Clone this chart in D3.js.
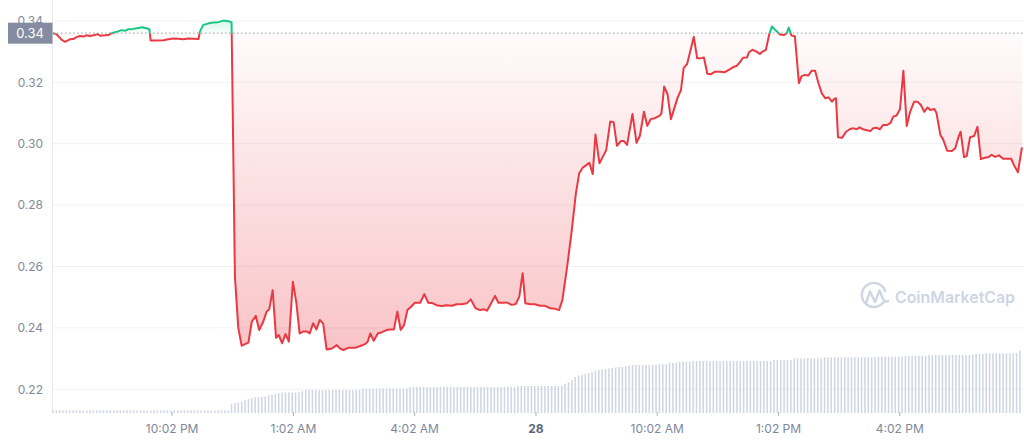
<!DOCTYPE html>
<html>
<head>
<meta charset="utf-8">
<script src="https://cdn.jsdelivr.net/npm/d3@7"></script>
<style>
  html, body { margin: 0; padding: 0; background: #fff; }
  svg { display: block; font-family: Inter, "Noto Sans", sans-serif; }
</style>
</head>
<body>
<svg id="chart" width="1024" height="441"></svg>
<script>
// ---------- DATA ----------
// [minutes after 19:06 on the 27th, price USD]
const pricePoints = [
[0,0.3360],[5,0.3357],[13,0.3338],[18,0.3332],[25,0.3340],[30,0.3341],[35,0.3347],[40,0.3351],[45,0.3349],[50,0.3353],
[55,0.3351],[62,0.3354],[66,0.3357],[70,0.3352],[77,0.3353],[82,0.3354],[87,0.3360],[95,0.3365],[102,0.3370],[107,0.3368],
[112,0.3373],[119,0.3374],[127,0.3377],[132,0.3379],[139,0.3376],[143,0.3373],[145,0.3336],[154,0.3336],[164,0.3337],[171,0.3340],
[179,0.3343],[186,0.3342],[193,0.3340],[201,0.3343],[208,0.3342],[216,0.3341],[218,0.3365],[223,0.3387],[231,0.3392],[238,0.3395],
[245,0.3396],[253,0.3401],[260,0.3399],[265,0.3396],[270,0.2566],[275,0.2400],[280,0.2342],[290,0.2352],[295,0.2420],[301,0.2439],
[306,0.2393],[312,0.2420],[317,0.2453],[321,0.2461],[326,0.2523],[331,0.2368],[335,0.2377],[340,0.2350],[345,0.2380],[350,0.2355],
[356,0.2550],[361,0.2485],[366,0.2382],[371,0.2388],[377,0.2388],[381,0.2382],[386,0.2415],[391,0.2395],[396,0.2426],[401,0.2413],
[406,0.2330],[414,0.2333],[421,0.2344],[426,0.2333],[431,0.2328],[438,0.2335],[448,0.2335],[456,0.2341],[463,0.2347],[467,0.2355],
[471,0.2382],[476,0.2358],[482,0.2382],[488,0.2386],[495,0.2393],[500,0.2395],[506,0.2395],[511,0.2453],[516,0.2393],[521,0.2409],
[526,0.2458],[531,0.2468],[537,0.2482],[545,0.2482],[551,0.2510],[557,0.2482],[564,0.2480],[569,0.2474],[577,0.2471],[584,0.2474],
[592,0.2472],[599,0.2477],[607,0.2477],[614,0.2480],[620,0.2493],[627,0.2464],[634,0.2458],[639,0.2461],[644,0.2456],[649,0.2475],
[656,0.2504],[661,0.2482],[668,0.2482],[673,0.2483],[681,0.2475],[687,0.2478],[692,0.2502],[697,0.2578],[701,0.2480],[708,0.2477],
[715,0.2477],[723,0.2472],[730,0.2472],[738,0.2464],[745,0.2462],[751,0.2458],[756,0.2491],[763,0.2599],[770,0.2719],[776,0.2838],
[781,0.2904],[786,0.2922],[792,0.2931],[796,0.2938],[801,0.2901],[805,0.3030],[811,0.2936],[821,0.2979],[827,0.3072],[832,0.3070],
[837,0.2993],[843,0.3009],[847,0.3009],[852,0.2996],[860,0.3097],[866,0.3003],[871,0.3026],[877,0.3104],[882,0.3058],[887,0.3080],
[893,0.3083],[900,0.3091],[903,0.3099],[907,0.3186],[912,0.3161],[917,0.3080],[922,0.3115],[927,0.3150],[932,0.3175],[936,0.3247],
[941,0.3259],[951,0.3348],[956,0.3278],[961,0.3278],[966,0.3281],[971,0.3228],[976,0.3226],[982,0.3234],[990,0.3234],[997,0.3233],
[1005,0.3243],[1010,0.3250],[1015,0.3254],[1020,0.3267],[1024,0.3280],[1030,0.3281],[1033,0.3298],[1038,0.3306],[1044,0.3300],[1049,0.3292],
[1053,0.3300],[1058,0.3306],[1063,0.3357],[1067,0.3382],[1072,0.3370],[1079,0.3356],[1085,0.3354],[1089,0.3360],[1092,0.3378],[1096,0.3352],
[1101,0.3350],[1107,0.3197],[1111,0.3220],[1116,0.3224],[1121,0.3222],[1126,0.3238],[1131,0.3238],[1136,0.3197],[1141,0.3164],[1146,0.3148],
[1151,0.3151],[1156,0.3137],[1159,0.3145],[1162,0.3148],[1165,0.3021],[1171,0.3019],[1177,0.3039],[1183,0.3048],[1188,0.3050],[1193,0.3047],
[1197,0.3053],[1202,0.3047],[1208,0.3044],[1213,0.3041],[1217,0.3050],[1222,0.3052],[1227,0.3047],[1232,0.3061],[1238,0.3061],[1243,0.3068],
[1247,0.3088],[1252,0.3092],[1257,0.3112],[1262,0.3238],[1267,0.3058],[1272,0.3104],[1278,0.3137],[1283,0.3137],[1288,0.3126],[1293,0.3104],
[1298,0.3118],[1302,0.3110],[1308,0.3113],[1311,0.3101],[1317,0.3028],[1321,0.3014],[1327,0.2977],[1334,0.2976],[1339,0.2985],[1344,0.3023],
[1347,0.3039],[1352,0.2956],[1356,0.2960],[1361,0.3021],[1367,0.3025],[1372,0.3055],[1377,0.2950],[1383,0.2954],[1389,0.2957],[1393,0.2964],
[1398,0.2957],[1404,0.2962],[1410,0.2951],[1416,0.2951],[1422,0.2951],[1426,0.2931],[1432,0.2907],[1438,0.2988]
];

// volume bars, one every 5 minutes (arbitrary units)
const volumes = [
0.27,0.27,0.27,0.27,0.27,0.27,0.27,0.27,0.27,0.27,
0.27,0.27,0.27,0.27,0.27,0.27,0.27,0.27,0.27,0.27,
0.27,0.27,0.27,0.27,0.27,0.27,0.27,0.27,0.27,0.27,
0.27,0.27,0.27,0.27,0.27,0.27,0.27,0.27,0.27,0.27,
0.27,0.27,0.27,0.27,0.27,0.27,0.27,0.27,0.27,0.27,
0.27,0.27,0.27,0.9,1.0,1.05,1.15,1.3,1.4,1.5,
1.55,1.6,1.6,1.65,1.75,1.85,1.95,2.0,2.05,2.05,
2.05,2.05,2.05,2.05,2.2,2.3,2.3,2.3,2.3,2.3,
2.3,2.3,2.3,2.3,2.3,2.3,2.3,2.3,2.3,2.3,
2.3,2.3,2.45,2.45,2.45,2.45,2.45,2.45,2.45,2.45,
2.45,2.45,2.45,2.45,2.45,2.45,2.6,2.6,2.6,2.6,
2.6,2.6,2.6,2.6,2.6,2.6,2.6,2.6,2.6,2.6,
2.6,2.6,2.6,2.6,2.6,2.6,2.6,2.6,2.6,2.6,
2.6,2.6,2.6,2.6,2.6,2.6,2.6,2.6,2.7,2.7,
2.7,2.7,2.7,2.7,2.7,2.7,2.7,2.7,2.7,2.7,
2.7,2.7,2.9,3.1,3.3,3.6,3.75,3.8,3.9,4.0,
4.1,4.2,4.3,4.35,4.4,4.45,4.5,4.55,4.6,4.6,
4.7,4.75,4.8,4.8,4.8,4.8,4.8,4.8,4.8,4.8,
4.87,4.87,4.87,5.03,5.03,5.03,5.13,5.13,5.13,5.13,
5.2,5.2,5.2,5.2,5.2,5.2,5.2,5.2,5.2,5.2,
5.2,5.2,5.2,5.2,5.2,5.2,5.2,5.2,5.2,5.2,
5.2,5.2,5.2,5.2,5.3,5.3,5.3,5.3,5.3,5.3,
5.47,5.47,5.47,5.47,5.47,5.47,5.47,5.47,5.47,5.57,
5.57,5.57,5.57,5.57,5.57,5.57,5.57,5.57,5.57,5.57,
5.57,5.57,5.57,5.57,5.57,5.63,5.63,5.63,5.63,5.63,
5.63,5.63,5.63,5.73,5.73,5.73,5.73,5.73,5.73,5.73,
5.8,5.8,5.8,5.8,5.8,5.8,5.8,5.8,5.8,5.8,
5.8,5.8,5.8,5.8,5.9,5.9,5.9,5.97,5.97,5.97,
5.97,5.97,5.97,5.97,5.97,5.97,5.97,6.23
];

const yTicks = [0.22, 0.24, 0.26, 0.28, 0.30, 0.32, 0.34];
const xTickMinutes = [176, 356, 536, 716, 896, 1076, 1256];
const xTickLabels = ["10:02 PM", "1:02 AM", "4:02 AM", "28", "10:02 AM", "1:02 PM", "4:02 PM"];
const openLabel = "0.34";

// ---------- CHART ----------
const svg = d3.select("#chart");
const start = new Date(2022, 4, 27, 19, 6);
const tAt = m => d3.timeMinute.offset(start, m);

const x = d3.scaleTime().domain([start, tAt(1440)]).range([53, 1023.3]);
const y = d3.scaleLinear().domain([0.22, 0.34]).range([389.3, 20.9]);
const yVol = d3.scaleLinear().domain([0, 6.23]).range([413, 350.7]);

const data = pricePoints.map(d => ({ t: tAt(d[0]), v: d[1] }));
const openPrice = data[0].v;
const yb = y(openPrice);

const RED = "#ea3943", GREEN = "#16c784";

const defs = svg.append("defs");
const gRed = defs.append("linearGradient").attr("id", "gradRed")
  .attr("gradientUnits", "userSpaceOnUse").attr("x1", 0).attr("x2", 0)
  .attr("y1", yb).attr("y2", y(0.233));
gRed.append("stop").attr("offset", 0).attr("stop-color", RED).attr("stop-opacity", 0.02);
gRed.append("stop").attr("offset", 1).attr("stop-color", RED).attr("stop-opacity", 0.3);
const gGreen = defs.append("linearGradient").attr("id", "gradGreen")
  .attr("gradientUnits", "userSpaceOnUse").attr("x1", 0).attr("x2", 0)
  .attr("y1", y(0.3405)).attr("y2", yb);
gGreen.append("stop").attr("offset", 0).attr("stop-color", GREEN).attr("stop-opacity", 0.18);
gGreen.append("stop").attr("offset", 1).attr("stop-color", GREEN).attr("stop-opacity", 0.03);

defs.append("clipPath").attr("id", "clipAbove").append("rect")
  .attr("x", 0).attr("y", 0).attr("width", 1024).attr("height", yb);
defs.append("clipPath").attr("id", "clipBelow").append("rect")
  .attr("x", 0).attr("y", yb).attr("width", 1024).attr("height", 441 - yb);

// gridlines
svg.append("g").selectAll("line").data(yTicks).join("line")
  .attr("x1", 53).attr("x2", 1024)
  .attr("y1", d => y(d)).attr("y2", d => y(d))
  .attr("stroke", "#eff2f5").attr("stroke-width", 1);

// y axis line
svg.append("line").attr("x1", 52.5).attr("x2", 52.5).attr("y1", 0).attr("y2", 413)
  .attr("stroke", "#e6e9ee").attr("stroke-width", 1);

// y axis labels
const yAxis = svg.append("g").attr("transform", "translate(53,0)")
  .call(d3.axisLeft(y).tickValues(yTicks).tickFormat(d3.format(".2f")).tickSize(0).tickPadding(10));
yAxis.select(".domain").remove();
yAxis.selectAll("text").attr("fill", "#808a9d").style("font-size", "12px").style("font-family", "Inter");

// volume bars
svg.append("g").selectAll("rect").data(volumes).join("rect")
  .attr("x", (d, i) => x(tAt(i * 5)) - 0.75)
  .attr("width", 1.5)
  .attr("y", d => yVol(d))
  .attr("height", d => yVol(0) - yVol(d))
  .attr("fill", "#cfd5e3");

// watermark
const wm = svg.append("g").attr("fill", "none").attr("stroke", "#cfd5e3");
wm.append("path")
  .attr("d", "M884.5,300.5 A12,12 0 1 1 885.2,291")
  .attr("stroke-width", 2.4).attr("stroke-linecap", "round");
wm.append("path")
  .attr("d", "M866,303 L870,291.5 L875,302 L879.5,290.5 L883,299 Q885,303 888,301")
  .attr("stroke-width", 2.4).attr("stroke-linecap", "round").attr("stroke-linejoin", "round");
svg.append("text").attr("x", 895).attr("y", 302.5)
  .attr("fill", "#cfd5e3").style("font-size", "16.5px").style("font-weight", 600)
  .attr("textLength", 120).attr("lengthAdjust", "spacingAndGlyphs")
  .style("font-family", "Inter").text("CoinMarketCap");

// areas
const area = d3.area().x(d => x(d.t)).y0(yb).y1(d => y(d.v));
svg.append("path").datum(data).attr("d", area)
  .attr("fill", "url(#gradRed)").attr("clip-path", "url(#clipBelow)");
svg.append("path").datum(data).attr("d", area)
  .attr("fill", "url(#gradGreen)").attr("clip-path", "url(#clipAbove)");

// dotted opening line
svg.append("line").attr("x1", 53).attr("x2", 1024).attr("y1", yb).attr("y2", yb)
  .attr("stroke", "#a6adbd").attr("stroke-width", 1.3).attr("stroke-dasharray", "1.5,2.5");

// price line
const line = d3.line().x(d => x(d.t)).y(d => y(d.v));
svg.append("path").datum(data).attr("d", line)
  .attr("fill", "none").attr("stroke", RED).attr("stroke-width", 2)
  .attr("stroke-linejoin", "round").attr("clip-path", "url(#clipBelow)");
svg.append("path").datum(data).attr("d", line)
  .attr("fill", "none").attr("stroke", GREEN).attr("stroke-width", 2)
  .attr("stroke-linejoin", "round").attr("clip-path", "url(#clipAbove)");

// x axis
const xAxis = svg.append("g").attr("transform", "translate(0,412)")
  .call(d3.axisBottom(x).tickValues(xTickMinutes.map(tAt))
    .tickFormat((d, i) => xTickLabels[i]).tickSize(4));
xAxis.select(".domain").remove();
xAxis.selectAll("line").attr("stroke", "#a7afbf");
xAxis.selectAll("text")
  .attr("y", 21).attr("dy", 0)
  .attr("fill", (d, i) => xTickLabels[i] === "28" ? "#58667e" : "#7d879b")
  .style("font-size", "12px").style("font-family", "Inter")
  .style("font-weight", (d, i) => xTickLabels[i] === "28" ? 700 : 400);

// opening price label box
svg.append("rect").attr("x", 8).attr("y", yb - 10.5).attr("width", 44.5).attr("height", 21)
  .attr("fill", "#858ca2");
svg.append("text").attr("x", 30).attr("y", yb).attr("dy", "0.36em")
  .attr("text-anchor", "middle").attr("fill", "#fff")
  .style("font-size", "13px").style("font-family", "Inter").text(openLabel);
</script>
</body>
</html>
